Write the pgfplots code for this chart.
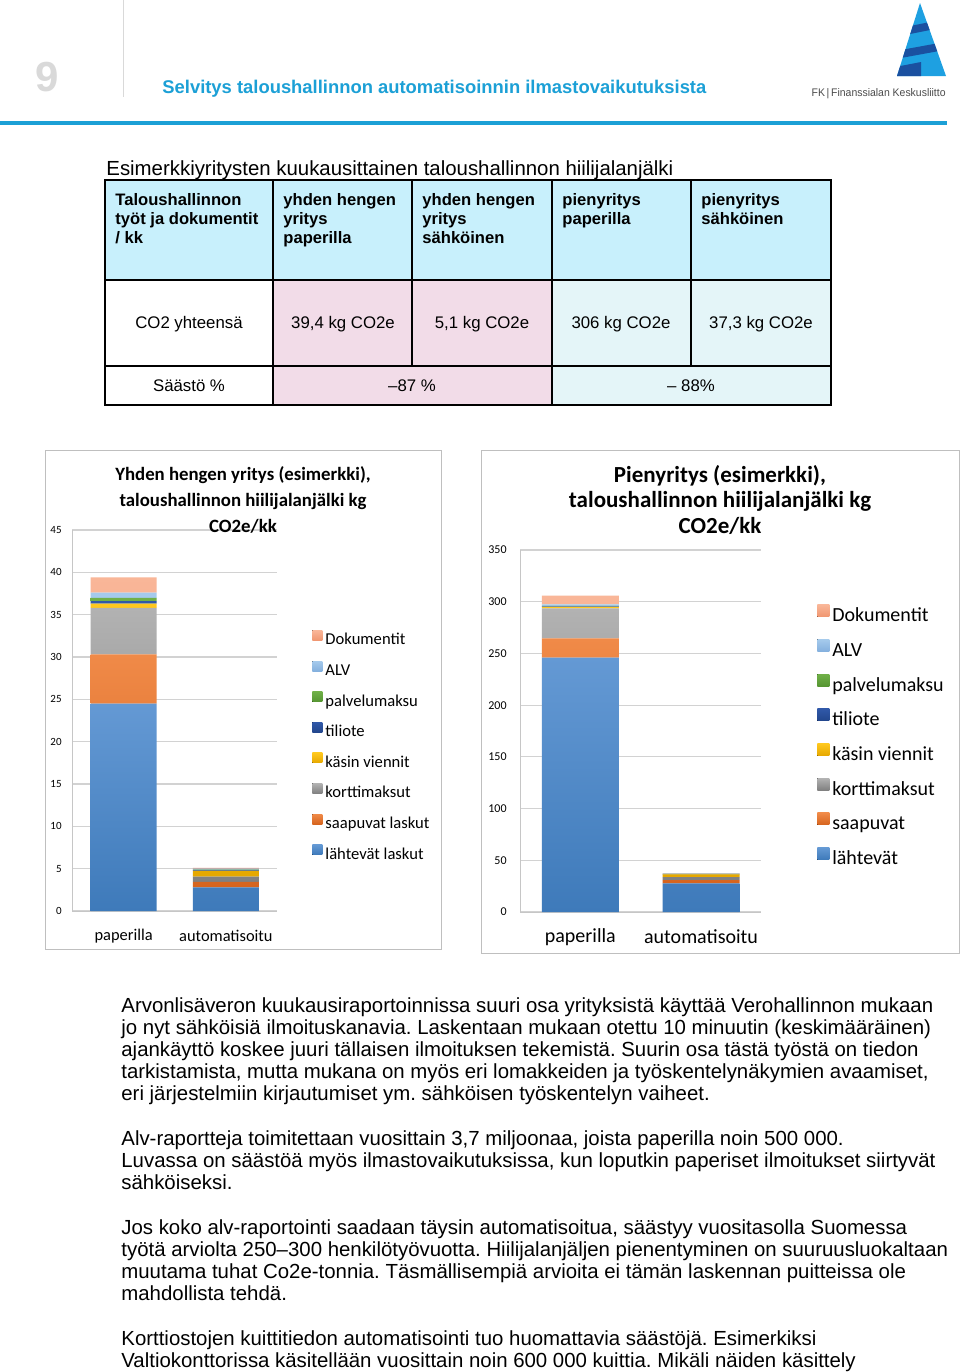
\documentclass[border=0pt]{standalone}
\usepackage{fontspec}
\setmainfont{Liberation Sans}
\newfontfamily\carl{Carlito}
\usepackage{pgfplots}
\pgfplotsset{compat=1.18}
\frenchspacing
\definecolor{hdrblue}{RGB}{28,160,214}
\definecolor{lblue}{RGB}{30,160,225}
\definecolor{dblue}{RGB}{26,80,160}
\definecolor{thead}{RGB}{200,240,252}
\definecolor{tpink}{RGB}{242,220,232}
\definecolor{tcyan}{RGB}{228,245,248}
\definecolor{bT}{RGB}{100,153,212}\definecolor{bB}{RGB}{62,122,186}
\definecolor{oT}{RGB}{240,138,72}\definecolor{oB}{RGB}{214,100,30}
\definecolor{gT}{RGB}{178,178,178}\definecolor{gB}{RGB}{128,128,128}
\definecolor{yT}{RGB}{255,200,30}\definecolor{yB}{RGB}{230,168,0}
\definecolor{tT}{RGB}{48,88,168}\definecolor{tB}{RGB}{34,70,140}
\definecolor{pT}{RGB}{112,176,72}\definecolor{pB}{RGB}{86,150,50}
\definecolor{aT}{RGB}{165,202,236}\definecolor{aB}{RGB}{132,176,222}
\definecolor{dT}{RGB}{249,182,152}\definecolor{dB}{RGB}{240,150,112}
\pgfplotsset{
  chartbase/.style={
    scale only axis, ybar stacked,
    axis x line*=bottom, axis y line*=left,
    axis line style={draw=gray!45, line width=0.5pt, -},
    major tick length=0pt,
    ymajorgrids, grid style={draw=gray!35, line width=0.6pt},
    xtick={0,1}, xticklabels={paperilla,automatisoitu},
    /pgf/number format/assume math mode=true,
    reverse legend, legend cell align=left,
  },
  sL/.style={draw=none, top color=bT, bottom color=bB},
  sS/.style={draw=none, top color=oT, bottom color=oB},
  sK/.style={draw=none, top color=gT, bottom color=gB},
  sV/.style={draw=none, top color=yT, bottom color=yB},
  sT/.style={draw=none, top color=tT, bottom color=tB},
  sP/.style={draw=none, top color=pT, bottom color=pB},
  sA/.style={draw=none, top color=aT, bottom color=aB},
  sD/.style={draw=none, top color=dT, bottom color=dB},
}
\newcommand{\bl}[2]{\node[anchor=base west, inner sep=0pt, font=\fontsize{10.2}{12}\selectfont] at (121,#1) {#2};}
\begin{document}
\begin{tikzpicture}
\begin{scope}[x=0.5pt,y=-0.5pt]
\useasboundingbox (0,0) rectangle (960,1372);
\fill[white] (0,0) rectangle (960,1372);
% header
\node[anchor=center, inner sep=0pt, text=gray!30, font=\bfseries\fontsize{21}{24}\selectfont] at (47,77) {9};
\draw[gray!30, line width=0.5pt] (123,0) -- (123,97);
\node[anchor=base west, inner sep=0pt, text=hdrblue, font=\bfseries\fontsize{9.2}{11}\selectfont] at (162,93) {Selvitys taloushallinnon automatisoinnin ilmastovaikutuksista};
\draw[hdrblue, line width=1.6pt] (0,123) -- (947,123);
% logo
\begin{scope}
\clip (920,3) -- (946,76) -- (897,76) -- cycle;
\fill[lblue] (890,0) rectangle (950,80);
\fill[dblue] (890,30) -- (950,18) -- (950,26) -- (890,38) -- cycle;
\fill[dblue] (890,52) -- (950,41) -- (950,49) -- (890,60) -- cycle;
\fill[dblue] (890,68) -- (921,62) -- (921,80) -- (890,80) -- cycle;
\end{scope}
\node[anchor=base east, inner sep=0pt, text=black!70, font=\fontsize{5.5}{6}\selectfont] at (946,96) {\scalebox{0.95}[1]{FK\,|\,Finanssialan Keskusliitto}};
% table title
\node[anchor=base west, inner sep=0pt, font=\fontsize{10.2}{12}\selectfont] at (106,175) {Esimerkkiyritysten kuukausittainen taloushallinnon hiilijalanjälki};
% table fills
\fill[thead] (105,180) rectangle (831,280);
\fill[white] (105,280) rectangle (273,405);
\fill[tpink] (273,280) rectangle (552,405);
\fill[tcyan] (552,280) rectangle (831,405);
\begin{scope}[line width=0.9pt, black]
\draw (105,180) rectangle (831,405);
\draw (105,280) -- (831,280);
\draw (105,366) -- (831,366);
\draw (273,180) -- (273,405);
\draw (552,180) -- (552,405);
\draw (412,180) -- (412,366);
\draw (691,180) -- (691,366);
\end{scope}
\begin{scope}[every node/.style={anchor=base west, inner sep=0pt, font=\bfseries\fontsize{8.3}{10}\selectfont}]
\node at (115,205) {Taloushallinnon};
\node at (115,224) {työt ja dokumentit};
\node at (115,243) {/ kk};
\node at (283,205) {yhden hengen};
\node at (283,224) {yritys};
\node at (283,243) {paperilla};
\node at (422,205) {yhden hengen};
\node at (422,224) {yritys};
\node at (422,243) {sähköinen};
\node at (562,205) {pienyritys};
\node at (562,224) {paperilla};
\node at (701,205) {pienyritys};
\node at (701,224) {sähköinen};
\end{scope}
\begin{scope}[every node/.style={anchor=base, inner sep=0pt, font=\fontsize{8.4}{10}\selectfont}]
\node at (189,328) {CO2 yhteensä};
\node at (343,328) {39,4 kg CO2e};
\node at (482,328) {5,1 kg CO2e};
\node at (621,328) {306 kg CO2e};
\node at (761,328) {37,3 kg CO2e};
\node at (189,391) {Säästö \%};
\node at (412,391) {–87 \%};
\node at (691,391) {– 88\%};
\end{scope}
% chart frames
\draw[gray!50, line width=0.5pt] (45,450) rectangle (441,949);
\draw[gray!50, line width=0.5pt] (481,450) rectangle (959,953);
% body text
\bl{1012}{Arvonlisäveron kuukausiraportoinnissa suuri osa yrityksistä käyttää Verohallinnon mukaan}
\bl{1034}{jo nyt sähköisiä ilmoituskanavia. Laskentaan mukaan otettu 10 minuutin (keskimääräinen)}
\bl{1056}{ajankäyttö koskee juuri tällaisen ilmoituksen tekemistä. Suurin osa tästä työstä on tiedon}
\bl{1078}{tarkistamista, mutta mukana on myös eri lomakkeiden ja työskentelynäkymien avaamiset,}
\bl{1100}{eri järjestelmiin kirjautumiset ym. sähköisen työskentelyn vaiheet.}
\bl{1145}{Alv-raportteja toimitettaan vuosittain 3,7 miljoonaa, joista paperilla noin 500 000.}
\bl{1167}{Luvassa on säästöä myös ilmastovaikutuksissa, kun loputkin paperiset ilmoitukset siirtyvät}
\bl{1189}{sähköiseksi.}
\bl{1234}{Jos koko alv-raportointi saadaan täysin automatisoitua, säästyy vuositasolla Suomessa}
\bl{1256}{työtä arviolta 250–300 henkilötyövuotta. Hiilijalanjäljen pienentyminen on suuruusluokaltaan}
\bl{1278}{muutama tuhat Co2e-tonnia. Täsmällisempiä arvioita ei tämän laskennan puitteissa ole}
\bl{1300}{mahdollista tehdä.}
\bl{1345}{Korttiostojen kuittitiedon automatisointi tuo huomattavia säästöjä. Esimerkiksi}
\bl{1367}{Valtiokonttorissa käsitellään vuosittain noin 600 000 kuittia. Mikäli näiden käsittely}
\end{scope}

% left chart
\begin{axis}[chartbase,
  at={(36pt,-455.5pt)}, width=102.5pt, height=190.5pt,
  bar width=33pt,
  xmin=-0.505, xmax=1.5, ymin=0, ymax=45, ytick={0,5,...,45},
  yticklabel style={inner sep=0pt, anchor=east, xshift=-5pt, font=\carl\fontsize{5.5}{6}\selectfont},
  xticklabel style={inner sep=0pt, anchor=center, yshift=-12.5pt, font=\carl\fontsize{8.2}{9}\selectfont},
  legend image code/.code={\fill[#1] (0pt,0pt) rectangle (5pt,5pt);},
  legend style={at={(axis description cs:1.171,0.7375)}, anchor=north west, draw=none, fill=none,
    inner sep=0pt, row sep=6.55pt, column sep=1.5pt, font=\carl\fontsize{8.3}{9}\selectfont,
    nodes={inner sep=0pt, text height=6pt, text depth=1.5pt}},
]
\addplot[sL] coordinates {(0,24.5) (1,2.8)};
\addplot[sS] coordinates {(0,5.8) (1,0.65)};
\addplot[sK] coordinates {(0,5.5) (1,0.6)};
\addplot[sV] coordinates {(0,0.5) (1,0.7)};
\addplot[sT] coordinates {(0,0.3) (1,0.05)};
\addplot[sP] coordinates {(0,0.4) (1,0.1)};
\addplot[sA] coordinates {(0,0.6) (1,0.1)};
\addplot[sD] coordinates {(0,1.8) (1,0.1)};
\legend{lähtevät laskut,saapuvat laskut,korttimaksut,käsin viennit,tiliote,palvelumaksu,ALV,Dokumentit}
\end{axis}

% right chart
\begin{axis}[chartbase,
  at={(260pt,-456pt)}, width=120.5pt, height=181pt,
  bar width=38.5pt,
  xmin=-0.5, xmax=1.497, ymin=0, ymax=350, ytick={0,50,...,350},
  yticklabel style={inner sep=0pt, anchor=east, xshift=-6.5pt, font=\carl\fontsize{6}{7}\selectfont},
  xticklabel style={inner sep=0pt, anchor=center, yshift=-12.5pt, font=\carl\fontsize{10}{11}\selectfont},
  legend image code/.code={\fill[#1] (0pt,0pt) rectangle (6pt,6pt);},
  legend style={at={(axis description cs:1.232,0.85)}, anchor=north west, draw=none, fill=none,
    inner sep=0pt, row sep=6.85pt, column sep=1.5pt, font=\carl\fontsize{10}{11}\selectfont,
    nodes={inner sep=0pt, text height=7pt, text depth=2pt}},
]
\addplot[sL] coordinates {(0,246) (1,27.6)};
\addplot[sS] coordinates {(0,18.5) (1,3.3)};
\addplot[sK] coordinates {(0,29) (1,2.8)};
\addplot[sV] coordinates {(0,1.5) (1,2.6)};
\addplot[sT] coordinates {(0,0.5) (1,0.2)};
\addplot[sP] coordinates {(0,0.5) (1,0.3)};
\addplot[sA] coordinates {(0,1.5) (1,0.3)};
\addplot[sD] coordinates {(0,8.5) (1,0.2)};
\legend{lähtevät,saapuvat,korttimaksut,käsin viennit,tiliote,palvelumaksu,ALV,Dokumentit}
\end{axis}

\begin{scope}[x=0.5pt,y=-0.5pt]
\begin{scope}[every node/.style={anchor=base, inner sep=0pt, font=\carl\bfseries\fontsize{9.4}{11}\selectfont}]
\node at (243,480) {Yhden hengen yritys (esimerkki),};
\node at (243,506) {taloushallinnon hiilijalanjälki kg};
\node at (243,532) {CO2e/kk};
\end{scope}
\begin{scope}[every node/.style={anchor=base, inner sep=0pt, font=\carl\bfseries\fontsize{11.5}{13}\selectfont}]
\node at (720,482) {Pienyritys (esimerkki),};
\node at (720,507) {taloushallinnon hiilijalanjälki kg};
\node at (720,533) {CO2e/kk};
\end{scope}
\end{scope}
\end{tikzpicture}
\end{document}
